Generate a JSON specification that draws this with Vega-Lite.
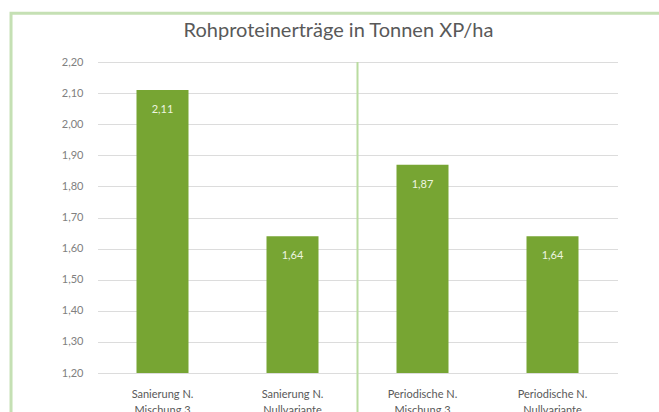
{
  "$schema": "https://vega.github.io/schema/vega-lite/v6.json",
  "autosize": "none",
  "width": 520,
  "height": 311,
  "padding": {"left": 97.5, "top": 62, "right": 41.5, "bottom": 39},
  "background": "#ffffff",
  "config": {
    "locale": {"number": {"decimal": ",", "thousands": ".", "grouping": [3], "currency": ["", " €"]}},
    "view": {"stroke": null},
    "font": "Lato"
  },
  "title": {
    "text": "Rohproteinerträge in Tonnen XP/ha",
    "fontSize": 20,
    "fontWeight": "normal",
    "color": "#595959",
    "font": "Lato",
    "anchor": "middle",
    "dx": -19,
    "offset": -29
  },
  "datasets": {
    "bars": [
      {"Variante": "Sanierung N.\nMischung 3", "Ertrag": 2.11},
      {"Variante": "Sanierung N.\nNullvariante", "Ertrag": 1.64},
      {"Variante": "Periodische N.\nMischung 3", "Ertrag": 1.87},
      {"Variante": "Periodische N.\nNullvariante", "Ertrag": 1.64}
    ],
    "sep": [
      {"Variante": "Sanierung N.\nNullvariante", "Ertrag": 2.2, "unten": 1.0}
    ],
    "frame": [
      {"links": -0.1663, "rechts": 2.0, "Ertrag": 2.357, "unten": 0.8}
    ]
  },
  "layer": [
    {
      "encoding": {
        "x": {
          "field": "Variante",
          "type": "nominal",
          "sort": null,
          "scale": {"paddingInner": 0.6, "paddingOuter": 0.3},
          "axis": {
            "title": null,
            "domain": false,
            "ticks": false,
            "labelAngle": 0,
            "labelExpr": "split(datum.label, '\\n')",
            "labelFontSize": 11,
            "labelColor": "#595959",
            "labelLineHeight": 16,
            "labelPadding": 21,
            "labelBaseline": "middle"
          }
        },
        "y": {
          "field": "Ertrag",
          "type": "quantitative",
          "scale": {"domain": [1.2, 2.2], "zero": false, "nice": false},
          "axis": {
            "title": null,
            "domain": false,
            "ticks": false,
            "values": [1.2, 1.3, 1.4, 1.5, 1.6, 1.7, 1.8, 1.9, 2.0, 2.1, 2.2],
            "format": ".2f",
            "labelFontSize": 11,
            "labelColor": "#808080",
            "labelPadding": 14.5,
            "gridColor": "#dcdcdc",
            "gridWidth": 1
          }
        }
      },
      "layer": [
        {
          "data": {"name": "bars"},
          "mark": {"type": "bar", "color": "#77a533"},
          "encoding": {
            "y2": {"datum": 1.2}
          }
        },
        {
          "data": {"name": "bars"},
          "mark": {"type": "text", "color": "#eef5e0", "fontSize": 11, "dy": 20, "baseline": "middle"},
          "encoding": {
            "text": {"field": "Ertrag", "type": "quantitative", "format": ".2f"}
          }
        },
        {
          "data": {"name": "sep"},
          "mark": {"type": "rule", "color": "#b9dca0", "strokeWidth": 2},
          "encoding": {
            "x": {"field": "Variante", "type": "nominal", "sort": null, "bandPosition": 1.75},
            "y2": {"field": "unten"}
          }
        }
      ]
    },
    {
      "data": {"name": "frame"},
      "mark": {"type": "rect", "fill": null, "stroke": "#c5e0b4", "strokeWidth": 3},
      "encoding": {
        "x": {"field": "links", "type": "quantitative", "scale": {"domain": [0, 1], "nice": false, "zero": false}, "axis": null},
        "x2": {"field": "rechts"},
        "y": {
          "field": "Ertrag",
          "type": "quantitative",
          "axis": {
            "title": null,
            "domain": false,
            "ticks": false,
            "values": [1.2, 1.3, 1.4, 1.5, 1.6, 1.7, 1.8, 1.9, 2.0, 2.1, 2.2],
            "format": ".2f",
            "labelFontSize": 11,
            "labelColor": "#808080",
            "labelPadding": 14.5,
            "gridColor": "#dcdcdc",
            "gridWidth": 1
          }
        },
        "y2": {"field": "unten"}
      }
    }
  ],
  "resolve": {"scale": {"x": "independent"}}
}
